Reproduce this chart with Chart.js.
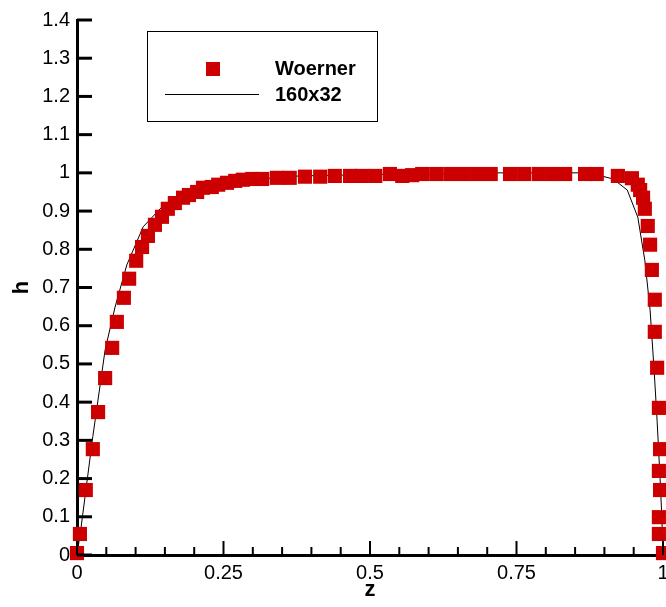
<!DOCTYPE html>
<html>
<head>
<meta charset="utf-8">
<script src="https://cdn.jsdelivr.net/npm/chart.js@4/dist/chart.umd.min.js"></script>
<style>
  body { margin: 0; background: #fff; }
  #wrap { width: 666px; height: 607px; }
</style>
</head>
<body>
<div id="wrap"><canvas id="myChart" width="666" height="607"></canvas></div>
<script>
// Woerner reference points
var woernerZ = [0, 0.005, 0.015, 0.027, 0.036, 0.048, 0.060, 0.068, 0.080, 0.089, 0.101, 0.111, 0.121, 0.133,
    0.145, 0.155, 0.167, 0.181, 0.191, 0.205, 0.215, 0.230, 0.241, 0.256, 0.270, 0.283, 0.299, 0.316,
    0.341, 0.363, 0.389, 0.415, 0.440, 0.466, 0.486, 0.509, 0.534, 0.555, 0.572, 0.589, 0.613, 0.637,
    0.660, 0.683, 0.706, 0.739, 0.763, 0.788, 0.811, 0.833, 0.867, 0.887, 0.923, 0.947, 0.957, 0.961,
    0.966, 0.969, 0.974, 0.978, 0.981, 0.986, 0.986, 0.990, 0.993, 0.995, 0.993, 0.995, 0.993, 0.993, 1.0];
var woernerH = [0.005, 0.055, 0.17, 0.277, 0.374, 0.463, 0.542, 0.610, 0.673, 0.723, 0.770, 0.806, 0.835, 0.864,
    0.885, 0.906, 0.921, 0.935, 0.942, 0.950, 0.961, 0.963, 0.969, 0.974, 0.979, 0.982, 0.984, 0.984,
    0.987, 0.987, 0.990, 0.990, 0.992, 0.992, 0.992, 0.992, 0.997, 0.992, 0.994, 0.997, 0.997, 0.997,
    0.997, 0.997, 0.997, 0.997, 0.997, 0.997, 0.997, 0.997, 0.997, 0.997, 0.992, 0.986, 0.969, 0.955,
    0.935, 0.906, 0.861, 0.812, 0.746, 0.668, 0.584, 0.490, 0.385, 0.277, 0.220, 0.170, 0.099, 0.055, 0.005];

// 160x32 simulation
var simZ = [0, 0.007, 0.027, 0.048, 0.065, 0.085, 0.113, 0.145, 0.181, 0.222, 0.266, 0.312, 0.38, 0.551,
    0.722, 0.858, 0.892, 0.915, 0.939, 0.957, 0.969, 0.978, 0.985, 0.990, 0.995, 0.998, 1.0];
var simH = [0, 0.073, 0.31, 0.537, 0.649, 0.759, 0.859, 0.911, 0.948, 0.969, 0.979, 0.984, 0.992, 0.997,
    1.0, 1.0, 0.993, 0.984, 0.955, 0.884, 0.771, 0.641, 0.48, 0.35, 0.20, 0.10, 0];

var xMajor = [0, 0.25, 0.5, 0.75, 1];
var yMajor = [0, 0.1, 0.2, 0.3, 0.4, 0.5, 0.6, 0.7, 0.8, 0.9, 1, 1.1, 1.2, 1.3, 1.4];

function toPoints(xs, ys) {
    var pts = [];
    for (var i = 0; i < xs.length; i++) pts.push({x: xs[i], y: ys[i]});
    return pts;
}

function fmt(v) { return String(+v.toFixed(2)); }

var font = 'Arial, "Liberation Sans", sans-serif';

// ticks pointing into the plot
var innerTicks = {
    id: 'innerTicks',
    afterDraw: function(chart) {
        var ctx = chart.ctx, xs = chart.scales.x, ys = chart.scales.y;
        var a = chart.chartArea;
        ctx.save();
        ctx.strokeStyle = '#000';
        ctx.lineWidth = 3;
        yMajor.forEach(function(v) {
            var py = ys.getPixelForValue(v);
            ctx.beginPath(); ctx.moveTo(a.left, py); ctx.lineTo(a.left + 15, py); ctx.stroke();
        });
        ctx.lineWidth = 2;
        for (var i = 0; i <= 20; i++) {
            var v = i * 0.05;
            var px = xs.getPixelForValue(v);
            var len = (i % 5 === 0) ? 14 : 8;
            ctx.beginPath(); ctx.moveTo(px, a.bottom); ctx.lineTo(px, a.bottom - len); ctx.stroke();
        }
        ctx.restore();
    }
};

// boxed legend inside the plot
var boxLegend = {
    id: 'boxLegend',
    afterDraw: function(chart) {
        var ctx = chart.ctx;
        ctx.save();
        ctx.fillStyle = '#fff';
        ctx.fillRect(147, 31, 231, 91);
        ctx.strokeStyle = '#000';
        ctx.lineWidth = 1;
        ctx.strokeRect(147.5, 31.5, 230, 90);
        ctx.fillStyle = '#cc0000';
        ctx.fillRect(206, 62, 14, 14);
        ctx.beginPath(); ctx.moveTo(165, 94.5); ctx.lineTo(259, 94.5); ctx.stroke();
        ctx.fillStyle = '#000';
        ctx.font = 'bold 20px ' + font;
        ctx.textBaseline = 'middle';
        ctx.fillText(chart.data.datasets[0].label, 275, 69);
        ctx.fillText(chart.data.datasets[1].label, 275, 95);
        ctx.restore();
    }
};

var myChart = new Chart(document.getElementById('myChart'), {
    type: 'scatter',
    data: {
        datasets: [
            {
                label: 'Woerner',
                data: toPoints(woernerZ, woernerH),
                pointStyle: 'rect',
                pointRadius: 10,
                pointBorderWidth: 0,
                backgroundColor: '#cc0000',
                borderColor: '#cc0000',
                clip: false
            },
            {
                label: '160x32',
                data: toPoints(simZ, simH),
                showLine: true,
                pointRadius: 0,
                borderColor: '#000',
                borderWidth: 1,
                clip: false
            }
        ]
    },
    options: {
        responsive: false,
        animation: false,
        layout: { autoPadding: false, padding: { top: 20, right: 3, left: 0, bottom: 0 } },
        plugins: { legend: { display: false }, tooltip: { enabled: false } },
        scales: {
            x: {
                type: 'linear', min: 0, max: 1,
                afterBuildTicks: function(s) { s.ticks = xMajor.map(function(v) { return {value: v}; }); },
                afterFit: function(s) { s.height = 52; s.paddingLeft = 0; s.paddingRight = 0; },
                ticks: { color: '#000', padding: 6, maxRotation: 0, autoSkip: false, callback: fmt,
                    font: { size: 20, family: font } },
                grid: { display: false, drawTicks: false, tickLength: 0 },
                border: { display: true, color: '#000', width: 3 },
                title: { display: true, text: 'z', color: '#000', padding: { top: 0, bottom: 4 },
                    font: { size: 22, weight: 'bold', family: font } }
            },
            y: {
                type: 'linear', min: 0, max: 1.4,
                afterBuildTicks: function(s) { s.ticks = yMajor.map(function(v) { return {value: v}; }); },
                afterFit: function(s) { s.width = 77; s.paddingTop = 0; s.paddingBottom = 0; },
                ticks: { color: '#000', padding: 7, autoSkip: false, callback: fmt,
                    font: { size: 20, family: font } },
                grid: { display: false, drawTicks: false, tickLength: 0 },
                border: { display: true, color: '#000', width: 3 },
                title: { display: true, text: 'h', color: '#000', padding: { top: 9, bottom: 0 },
                    font: { size: 22, weight: 'bold', family: font } }
            }
        }
    },
    plugins: [innerTicks, boxLegend]
});
</script>
</body>
</html>
